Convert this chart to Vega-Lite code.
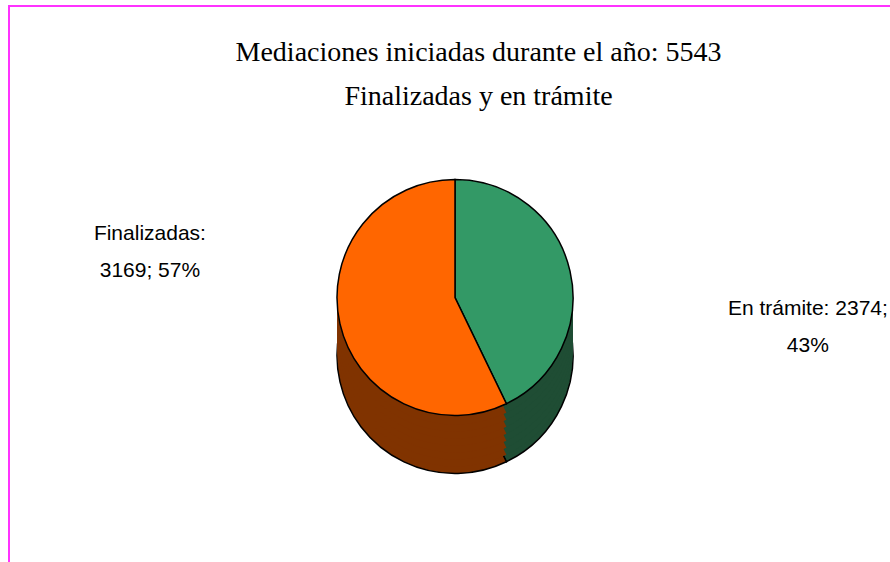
{
  "$schema": "https://vega.github.io/schema/vega-lite/v6.json",
  "width": 890,
  "height": 562,
  "autosize": {"type": "fit", "contains": "padding"},
  "padding": {"left": 8, "top": 5, "right": -12, "bottom": -12},
  "background": "white",
  "config": {"view": {"stroke": null}},
  "data": {
    "values": [
      {"estado": "En trámite", "n": 2374},
      {"estado": "Finalizadas", "n": 3169}
    ]
  },
  "layer": [
    {
      "mark": {"type": "rect", "filled": false, "stroke": "#FF33FF", "strokeWidth": 2},
      "encoding": {}
    },
    {
      "data": {"values": [{"titulo": "Mediaciones iniciadas durante el año: 5543\nFinalizadas y en trámite"}]},
      "mark": {"type": "text", "font": "Liberation Serif", "fontSize": 28, "fontWeight": "normal", "lineBreak": "\n", "lineHeight": 44, "align": "center", "baseline": "alphabetic", "dx": 23.5, "dy": -228.5, "color": "black"},
      "encoding": {"text": {"field": "titulo"}}
    },
    {
      "mark": {"type": "arc", "outerRadius": 118, "yOffset": 66, "stroke": "black", "strokeWidth": 1.5},
      "encoding": {
        "theta": {"field": "n", "type": "quantitative", "stack": true},
        "order": {"field": "estado", "type": "ordinal"},
        "color": {"field": "estado", "type": "nominal", "scale": {"domain": ["En trámite", "Finalizadas"], "range": ["#1F4D34", "#803300"]}, "legend": null}
      }
    },
    {
      "mark": {"type": "arc", "outerRadius": 118, "yOffset": 59, "strokeWidth": 0},
      "encoding": {
        "theta": {"field": "n", "type": "quantitative", "stack": true},
        "order": {"field": "estado", "type": "ordinal"},
        "color": {"field": "estado", "type": "nominal", "scale": {"domain": ["En trámite", "Finalizadas"], "range": ["#1F4D34", "#803300"]}, "legend": null}
      }
    },
    {
      "mark": {"type": "arc", "outerRadius": 118, "yOffset": 52, "strokeWidth": 0},
      "encoding": {
        "theta": {"field": "n", "type": "quantitative", "stack": true},
        "order": {"field": "estado", "type": "ordinal"},
        "color": {"field": "estado", "type": "nominal", "scale": {"domain": ["En trámite", "Finalizadas"], "range": ["#1F4D34", "#803300"]}, "legend": null}
      }
    },
    {
      "mark": {"type": "arc", "outerRadius": 118, "yOffset": 45, "strokeWidth": 0},
      "encoding": {
        "theta": {"field": "n", "type": "quantitative", "stack": true},
        "order": {"field": "estado", "type": "ordinal"},
        "color": {"field": "estado", "type": "nominal", "scale": {"domain": ["En trámite", "Finalizadas"], "range": ["#1F4D34", "#803300"]}, "legend": null}
      }
    },
    {
      "mark": {"type": "arc", "outerRadius": 118, "yOffset": 38, "strokeWidth": 0},
      "encoding": {
        "theta": {"field": "n", "type": "quantitative", "stack": true},
        "order": {"field": "estado", "type": "ordinal"},
        "color": {"field": "estado", "type": "nominal", "scale": {"domain": ["En trámite", "Finalizadas"], "range": ["#1F4D34", "#803300"]}, "legend": null}
      }
    },
    {
      "mark": {"type": "arc", "outerRadius": 118, "yOffset": 31, "strokeWidth": 0},
      "encoding": {
        "theta": {"field": "n", "type": "quantitative", "stack": true},
        "order": {"field": "estado", "type": "ordinal"},
        "color": {"field": "estado", "type": "nominal", "scale": {"domain": ["En trámite", "Finalizadas"], "range": ["#1F4D34", "#803300"]}, "legend": null}
      }
    },
    {
      "mark": {"type": "arc", "outerRadius": 118, "yOffset": 24, "strokeWidth": 0},
      "encoding": {
        "theta": {"field": "n", "type": "quantitative", "stack": true},
        "order": {"field": "estado", "type": "ordinal"},
        "color": {"field": "estado", "type": "nominal", "scale": {"domain": ["En trámite", "Finalizadas"], "range": ["#1F4D34", "#803300"]}, "legend": null}
      }
    },
    {
      "mark": {"type": "arc", "outerRadius": 118, "yOffset": 17, "strokeWidth": 0},
      "encoding": {
        "theta": {"field": "n", "type": "quantitative", "stack": true},
        "order": {"field": "estado", "type": "ordinal"},
        "color": {"field": "estado", "type": "nominal", "scale": {"domain": ["En trámite", "Finalizadas"], "range": ["#1F4D34", "#803300"]}, "legend": null}
      }
    },
    {
      "mark": {"type": "arc", "outerRadius": 118, "yOffset": 8, "stroke": "black", "strokeWidth": 1.5},
      "encoding": {
        "theta": {"field": "n", "type": "quantitative", "stack": true},
        "order": {"field": "estado", "type": "ordinal"},
        "color": {"field": "estado", "type": "nominal", "scale": {"domain": ["En trámite", "Finalizadas"], "range": ["#339966", "#FF6600"]}, "legend": null}
      }
    },
    {
      "transform": [
        {"joinaggregate": [{"op": "sum", "field": "n", "as": "total"}]},
        {"calculate": "datum.estado === 'Finalizadas' ? datum.estado + ':\\n' + datum.n + '; ' + format(datum.n / datum.total, '.0%') : ''", "as": "lab"}
      ],
      "mark": {"type": "text", "radius": 313, "dy": -119, "font": "Liberation Sans", "fontSize": 21, "lineBreak": "\n", "lineHeight": 37, "align": "center", "baseline": "alphabetic", "color": "black"},
      "encoding": {
        "theta": {"field": "n", "type": "quantitative", "stack": true},
        "order": {"field": "estado", "type": "ordinal"},
        "text": {"field": "lab"}
      }
    },
    {
      "transform": [
        {"joinaggregate": [{"op": "sum", "field": "n", "as": "total"}]},
        {"calculate": "datum.estado === 'En trámite' ? datum.estado + ': ' + datum.n + ';\\n' + format(datum.n / datum.total, '.0%') : ''", "as": "lab"}
      ],
      "mark": {"type": "text", "radius": 362, "dy": 106, "font": "Liberation Sans", "fontSize": 21, "lineBreak": "\n", "lineHeight": 37, "align": "center", "baseline": "alphabetic", "color": "black"},
      "encoding": {
        "theta": {"field": "n", "type": "quantitative", "stack": true},
        "order": {"field": "estado", "type": "ordinal"},
        "text": {"field": "lab"}
      }
    }
  ],
  "resolve": {"scale": {"color": "independent"}}
}
